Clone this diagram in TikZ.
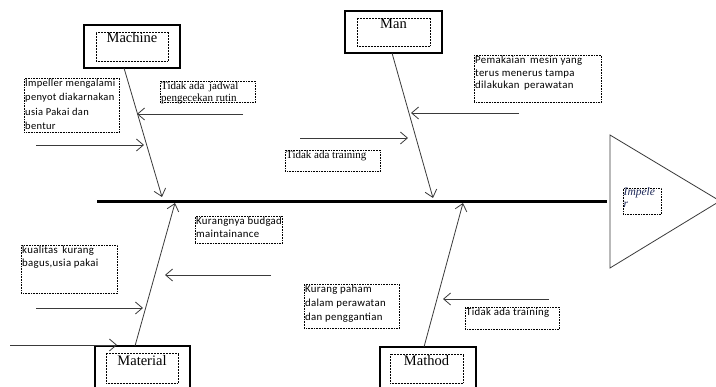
\documentclass[tikz,border=0pt]{standalone}
\usepackage{fontspec}
\setmainfont{Liberation Serif}
\newfontfamily\calfont{Carlito}[LetterSpace=3]
\usetikzlibrary{arrows.meta}
\definecolor{ln}{HTML}{3A3A3A}
\definecolor{inkblue}{HTML}{1F2A5A}
\begin{document}
\begin{tikzpicture}[x=1pt,y=-1pt,
  catout/.style={draw, line width=1.8pt, inner sep=0pt},
  catin/.style={draw, densely dotted, line width=0.5pt, inner sep=0pt},
  cattext/.style={font=\fontsize{14.5}{16}\selectfont, inner sep=0pt},
  notebox/.style={draw, densely dotted, line width=0.6pt, inner sep=0pt, anchor=north west, fill=white},
  notecal/.style={anchor=north west, inner sep=1pt, align=left, font=\calfont\fontsize{10.8}{13}\selectfont},
  noteser/.style={anchor=north west, inner sep=1pt, align=left, font=\fontsize{11}{12}\selectfont},
  bone/.style={draw=ln, line width=0.8pt, -{Straight Barb[length=7pt,width=12pt]}},
  arr/.style={draw=ln, line width=0.8pt, -{Straight Barb[length=7pt,width=12pt]}},
  spine/.style={draw=black, line width=3pt}]
\useasboundingbox (0,0) rectangle (716,387);
\clip (0,0) rectangle (716,387);

% spine and head
\coordinate (s1) at (97,202);
\coordinate (s2) at (607,202);
\draw[spine] (s1) -- (s2);
\coordinate (h1) at (610,135);
\coordinate (h2) at (720,201);
\coordinate (h3) at (610,268);
\draw[draw=ln, line width=0.8pt] (h1) -- (h2) -- (h3) -- cycle;
\node[notebox, minimum width=38pt, minimum height=26pt] (e) at (623,188) {};
\node[anchor=north west, inner sep=0pt, align=left, text=inkblue,
  font=\itshape\fontsize{11.5}{12}\selectfont] (et) at (623.5,187) {Impele\\r};

% category boxes
\node[catout, minimum width=96pt, minimum height=43pt] (mach) at (132,46.5) {};
\node[catin, minimum width=72pt, minimum height=29pt] (machi) at (132,46.5) {};
\node[cattext] (macht) at (132,38) {Machine};

\node[catout, minimum width=97pt, minimum height=42pt] (man) at (393.5,32) {};
\node[catin, minimum width=73pt, minimum height=28pt] (mani) at (393.5,32) {};
\node[cattext] (mant) at (393.5,24) {Man};

\node[catout, minimum width=95pt, minimum height=44pt] (mat) at (142.5,368) {};
\node[catin, minimum width=72pt, minimum height=30pt] (mati) at (142,368) {};
\node[cattext] (matt) at (142,361) {Material};

\node[catout, minimum width=96pt, minimum height=42pt] (meth) at (428,368) {};
\node[catin, minimum width=73pt, minimum height=29pt] (methi) at (426.5,368.5) {};
\node[cattext] (metht) at (426.5,361) {Mathod};

% bones
\coordinate (b1a) at (124,68);   \coordinate (b1b) at (162,197);
\coordinate (b2a) at (392,53);   \coordinate (b2b) at (433,198);
\coordinate (b3a) at (135,346);  \coordinate (b3b) at (175,203);
\coordinate (b4a) at (424,347);  \coordinate (b4b) at (463,203);
\draw[bone] (b1a) -- (b1b);
\draw[bone] (b2a) -- (b2b);
\draw[bone] (b3a) -- (b3b);
\draw[bone] (b4a) -- (b4b);

% small arrows
\coordinate (a1a) at (243,114); \coordinate (a1b) at (137,114);
\coordinate (a2a) at (36,145);  \coordinate (a2b) at (144,145);
\coordinate (a3a) at (519,113); \coordinate (a3b) at (411,113);
\coordinate (a4a) at (300,138); \coordinate (a4b) at (408,138);
\coordinate (a5a) at (271,275); \coordinate (a5b) at (165,275);
\coordinate (a6a) at (36,308);  \coordinate (a6b) at (143,308);
\coordinate (a7a) at (10,345);  \coordinate (a7b) at (117,345);
\coordinate (a8a) at (549,299); \coordinate (a8b) at (443,299);
\foreach \i in {1,...,8} \draw[arr] (a\i a) -- (a\i b);

% notes
\node[notebox, minimum width=95pt, minimum height=54pt] (n1) at (24,78) {};
\node[notecal, font=\calfont\fontsize{10.5}{14.5}\selectfont] (n1t) at (n1.north west) {Impeller mengalami\\penyot diakarnakan\\usia Pakai dan\\bentur};

\node[notebox, minimum width=95pt, minimum height=21pt] (n2) at (160,81) {};
\node[noteser] (n2t) at (n2.north west) {Tidak ada\, jadwal\\pengecekan rutin};

\node[notebox, minimum width=127pt, minimum height=47pt] (n3) at (474,55) {};
\node[notecal, font=\calfont\fontsize{10.8}{12.5}\selectfont] (n3t) at (n3.north west) {Pemakaian\, mesin yang\\terus menerus tampa\\dilakukan\, perawatan};

\node[notebox, minimum width=95pt, minimum height=21pt] (n4) at (285,150) {};
\node[noteser] (n4t) at (n4.north west) {Tidak ada training};

\node[notebox, minimum width=87pt, minimum height=27pt] (n5) at (195,216) {};
\node[notecal] (n5t) at (n5.north west) {Kurangnya budgad\\maintainance};

\node[notebox, minimum width=96pt, minimum height=48pt] (n6) at (21,245) {};
\node[notecal] (n6t) at (n6.north west) {kualitas\, kurang\\bagus,usia pakai};

\node[notebox, minimum width=95pt, minimum height=44pt] (n7) at (304,284) {};
\node[notecal, font=\calfont\fontsize{10.8}{14}\selectfont] (n7t) at (n7.north west) {Kurang paham\\dalam perawatan\\dan penggantian};

\node[notebox, minimum width=94pt, minimum height=22pt] (n8) at (465,307) {};
\node[notecal] (n8t) at (n8.north west) {Tidak ada training};
\end{tikzpicture}
\end{document}
